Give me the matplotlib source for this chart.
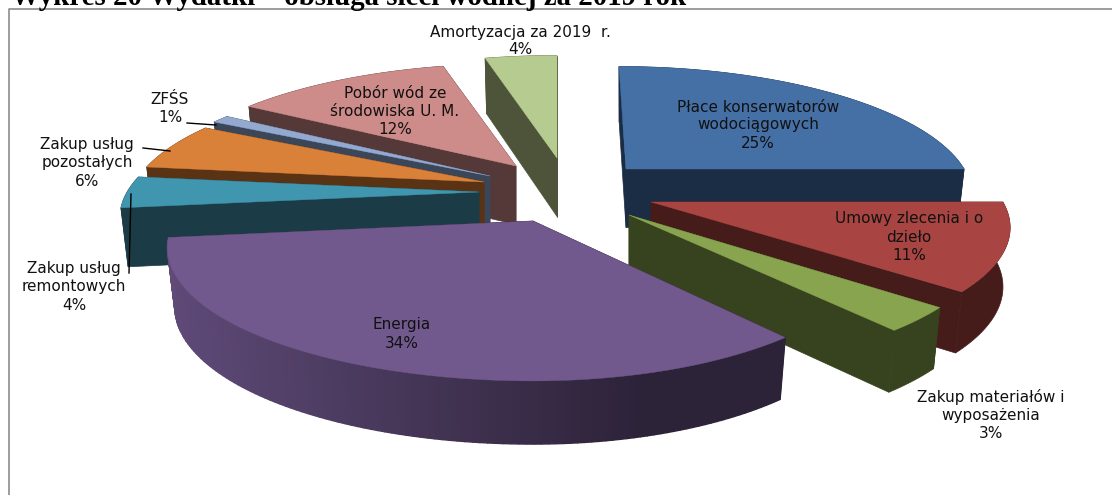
import matplotlib
matplotlib.use("Agg")
import matplotlib.pyplot as plt
import matplotlib.colors as mcolors
import numpy as np

# Slices, clockwise from 12 o'clock
labels = ["Płace konserwatorów\nwodociągowych", "Umowy zlecenia i o\ndzieło",
          "Zakup materiałów i\nwyposażenia", "Energia", "Zakup usług\nremontowych",
          "Zakup usług\npozostałych", "ZFŚS", "Pobór wód ze\nśrodowiska U. M.",
          "Amortyzacja za 2019  r."]
values = [25, 11, 3, 34, 4, 6, 1, 12, 4]

top_colors = ["#4470a6", "#a84442", "#88a44e", "#71588d", "#3f96ae",
              "#d98039", "#93a9cf", "#cd8b89", "#b6cb90"]
side_colors = ["#1b2d45", "#451c19", "#37421e", "#2d2339", "#1b3c47",
               "#5a3315", "#3c4659", "#553838", "#4d5439"]

# explode offset of each slice from the pie centre, in pixels
center = (540, 190)
explode_x = [86, 111, 89, -7, -61, -56, -50, -24, 17]
explode_y = [-21, 12, 25, 31, 2, -8, -14, -24, -32]
scale_x = [0.98, 1.02, 1.02, 0.97, 1.02, 1.01, 1.0, 1.015, 1.0]
scale_y = [1.0, 1.0, 1.03, 1.04, 1.0, 1.0, 1.0, 1.0, 1.0]
scale_left = [1.0, 1.0, 1.0, 1.07, 1.0, 1.0, 1.0, 1.0, 1.0]
lean = [-7, 0, 0, 0, 0, 0, 0, 0, 0]

# back to front
draw_order = [8, 0, 7, 6, 5, 4, 1, 2, 3]

label_x = [758, 909, 991, 402, 74, 87, 170, 395, 520]
label_y = [125, 237, 415, 334, 287, 163, 109, 111, 41]

leaders = [((187, 216), (123, 125)), ((143, 170), (148, 151)), ((131, 129), (194, 273))]

RX, RY, PERSP = 345, 123, 0.2


def rim(a, i):
    # a in degrees clockwise from the top, returns offset from the apex
    a = np.radians(a)
    X, Y = np.sin(a), np.cos(a)
    s = 1 / (1 + PERSP * Y)
    sx = np.where(X < 0, scale_x[i] * scale_left[i], scale_x[i])
    return RX * X * s * sx + lean[i] * Y, -RY * Y * s * scale_y[i]


def drop(dy):
    # side height grows toward the viewer
    return 58.5 + 4.5 * dy / (RY / (1 - PERSP))


def lower(dx, dy):
    return dx * 0.98, dy + drop(dy)


fig = plt.figure(figsize=(11.12, 4.95), dpi=100)
ax = fig.add_axes([0, 0, 1, 1])
ax.set_xlim(0, 1112)
ax.set_ylim(495, 0)
ax.axis("off")

# frame cut by the image edge
ax.plot([9, 9, 1112], [495, 9, 9], color="#8c8c8c", lw=1.2)

ends = np.cumsum(values) * 3.6
starts = ends - np.array(values) * 3.6
light = np.array(mcolors.to_rgb("#5f4a78"))
dark = np.array(mcolors.to_rgb("#2d2339"))

for n, i in enumerate(draw_order):
    ax0 = center[0] + explode_x[i]
    ay0 = center[1] + explode_y[i]
    angles = np.linspace(starts[i], ends[i], max(int(values[i] * 3.6), 3))
    dx, dy = rim(angles, i)
    bx, by = lower(dx, dy)

    # radial side faces
    for k in (0, -1):
        ax.fill([ax0, ax0 + dx[k], ax0 + bx[k], ax0], [ay0, ay0 + dy[k], ay0 + by[k], ay0 + drop(0)],
                color=side_colors[i], lw=0.5, zorder=2 + n * 3)

    # outer wall, Energia gets a light to dark gradient
    if labels[i] == "Energia":
        for k in range(len(angles) - 1):
            t = np.clip((ax0 + dx[k] - 165) / 475, 0, 1)
            col = tuple(light * (1 - t) + dark * t)
            ax.fill([ax0 + dx[k], ax0 + dx[k + 1], ax0 + bx[k + 1], ax0 + bx[k]],
                    [ay0 + dy[k], ay0 + dy[k + 1], ay0 + by[k + 1], ay0 + by[k]],
                    color=col, lw=1, zorder=3 + n * 3)
    else:
        ax.fill(np.r_[ax0 + dx, ax0 + bx[::-1]], np.r_[ay0 + dy, ay0 + by[::-1]],
                color=side_colors[i], lw=0.5, zorder=3 + n * 3)

    ax.fill(np.r_[ax0, ax0 + dx], np.r_[ay0, ay0 + dy], color=top_colors[i], lw=0.3,
            zorder=4 + n * 3)

for xs, ys in leaders:
    ax.plot(xs, ys, color="black", lw=1, zorder=50)

for name, v, x, y in zip(labels, values, label_x, label_y):
    ax.text(x, y, f"{name}\n{v}%", ha="center", va="center", fontsize=11,
            family="DejaVu Sans", color="#111111", linespacing=1.25, zorder=60)

ax.text(11, 5, "Wykres 20 Wydatki – obsługa sieci wodnej za 2019 rok", ha="left", va="baseline",
        fontsize=20.8, family="Liberation Serif", weight="bold", color="black", clip_on=False)

fig.savefig("out.png", dpi=100)
